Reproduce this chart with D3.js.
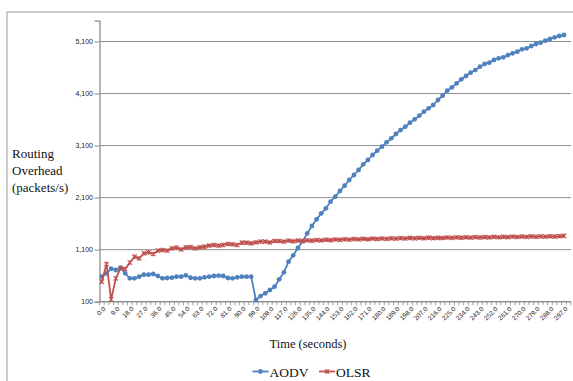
<!DOCTYPE html>
<html><head><meta charset="utf-8">
<script src="https://cdn.jsdelivr.net/npm/d3@7"></script>
<style>html,body{margin:0;padding:0;background:#fff;}svg{display:block;}</style>
</head><body>
<div id="chart"></div>
<script>
const categories = [0,3,6,9,12,15,18,21,24,27,30,33,36,39,42,45,48,51,54,57,60,63,66,69,72,75,78,81,84,87,90,93,96,99,102,105,108,111,114,117,120,123,126,129,132,135,138,141,144,147,150,153,156,159,162,165,168,171,174,177,180,183,186,189,192,195,198,201,204,207,210,213,216,219,222,225,228,231,234,237,240,243,246,249,252,255,258,261,264,267,270,273,276,279,282,285,288,291,294,297,300];
const aodv = [581,645,735,709,754,645,549,549,581,619,619,632,594,549,555,562,581,581,607,560,
  549,549,568,581,594,600,594,555,549,568,581,581,581,
  133,209,261,325,389,530,664,870,991,1132,1260,
  1414,1555,1683,1798,1894,2022,2118,2227,2330,2439,2535,2631,2740,2823,2919,3002,3079,3163,3239,3323,3399,3463,3540,3604,3675,3752,3816,3880,3976,4059,4155,4219,4296,4373,4437,4501,4552,4616,4668,4693,4745,4777,4796,4840,4873,4905,4950,4969,5014,5052,5078,5116,5148,5180,5206,5225];
const olsr = [485,824,145,549,741,728,850,965,933,1029,1049,1017,1081,1093,1081,1125,1138,1106,1145,1150,
  1125,1145,1157,1177,1190,1177,1190,1209,1202,1190,1234,1234,1222,1241,1254,1254,1241,1266,1266,1254,1273,
  1262,1275,1268,1280,1272,1284,1278,1290,1282,1295,1288,1300,1292,1305,1298,1308,1300,1312,1305,1315,1308,1318,1312,1322,1315,1325,1318,1326,1320,1330,1322,1328,1324,1334,1326,1336,1330,1338,1332,1340,1334,1342,1336,1345,1338,1347,1341,1350,1343,1352,1346,1354,1348,1356,1350,1358,1352,1360,1366];
const yTicks = [100,1100,2100,3100,4100,5100];
const seriesNames = ["AODV","OLSR"];
const yTitle = ["Routing","Overhead","(packets/s)"];
const xTitle = "Time (seconds)";

const W = 573, H = 381;
const svg = d3.select("#chart").append("svg").attr("width", W).attr("height", H);

// outer frame
svg.append("rect").attr("x", 7).attr("y", 12).attr("width", 600).attr("height", 420)
  .attr("fill", "#fff").attr("stroke", "#bcbcbc").attr("stroke-width", 1.5);

const x = d3.scaleBand().domain(categories).range([99.5, 571]).padding(0);
const y = d3.scaleLinear().domain([100, 5500]).range([301.7, 20.7]);
const cx = d => x(d) + x.bandwidth() / 2;

// gridlines
svg.append("g").selectAll("line").data(yTicks).join("line")
  .attr("x1", 99.5).attr("x2", 571).attr("y1", d => y(d)).attr("y2", d => y(d))
  .attr("stroke", "#8c8c8c").attr("stroke-width", 1);

// y axis
const yAxis = svg.append("g").attr("transform", "translate(99.5,0)")
  .call(d3.axisLeft(y).tickValues(yTicks).tickFormat(d3.format(",")).tickSize(5).tickPadding(1.5));
yAxis.select(".domain").attr("stroke", "#8c8c8c").attr("stroke-width", 1.3);
yAxis.selectAll(".tick line").attr("stroke", "#8c8c8c");
yAxis.selectAll("text").attr("font-family", "Liberation Sans, Arial, sans-serif").attr("font-size", 7).attr("fill", "#222");

// x axis line + boundary ticks
const xg = svg.append("g");
xg.append("line").attr("x1", 99.5).attr("x2", 571).attr("y1", y(100)).attr("y2", y(100))
  .attr("stroke", "#8c8c8c").attr("stroke-width", 1.3);
const bounds = categories.map(c => x(c)).concat([x.range()[1]]);
xg.selectAll("line.tk").data(bounds).join("line").attr("class", "tk")
  .attr("x1", d => d).attr("x2", d => d).attr("y1", y(100)).attr("y2", y(100) + 3.5)
  .attr("stroke", "#8c8c8c").attr("stroke-width", 0.8);
const labelCats = categories.filter((c, i) => i % 3 === 0 && i < 100);
xg.selectAll("text").data(labelCats).join("text")
  .attr("transform", d => `translate(${cx(d) + 2.5},${y(100) + 6}) rotate(-45)`)
  .attr("text-anchor", "end").attr("dy", "0.35em")
  .attr("font-family", "Liberation Sans, Arial, sans-serif").attr("font-size", 6.5).attr("fill", "#222")
  .text(d => d.toFixed(1));

// series
const data = [
  {name: seriesNames[0], values: aodv, color: "#4F81BD"},
  {name: seriesNames[1], values: olsr, color: "#C0504D"}
];
const line = d3.line().x((d, i) => cx(categories[i])).y(d => y(d));

function starMarker(g, px, py, color, s) {
  const p = `M${px - s},${py - s}L${px + s},${py + s}M${px - s},${py + s}L${px + s},${py - s}M${px},${py - s}L${px},${py + s}`;
  g.append("path").attr("d", p).attr("stroke", color).attr("stroke-width", 1.1).attr("fill", "none");
}

data.forEach((s, si) => {
  const g = svg.append("g");
  g.append("path").datum(s.values).attr("d", line).attr("fill", "none")
    .attr("stroke", s.color).attr("stroke-width", 1.8).attr("stroke-linejoin", "round");
  if (si === 0) {
    g.selectAll("circle").data(s.values).join("circle")
      .attr("cx", (d, i) => cx(categories[i])).attr("cy", d => y(d)).attr("r", 2.4)
      .attr("fill", s.color);
  } else {
    s.values.forEach((d, i) => starMarker(g, cx(categories[i]), y(d), s.color, 2.2));
  }
});

// axis titles
const serif = "Liberation Serif, Times New Roman, serif";
svg.append("text").attr("x", 308).attr("y", 348).attr("text-anchor", "middle")
  .attr("font-family", serif).attr("font-size", 12.5).attr("fill", "#111").text(xTitle);
svg.append("g").selectAll("text").data(yTitle).join("text")
  .attr("x", 12).attr("y", (d, i) => 158 + i * 17)
  .attr("font-family", serif).attr("font-size", 13).attr("fill", "#111").text(d => d);

// legend
const legend = svg.append("g");
const legendItems = [
  {name: seriesNames[0], color: "#4F81BD", x0: 252.5, tx: 269.5},
  {name: seriesNames[1], color: "#C0504D", x0: 319, tx: 336}
];
legendItems.forEach((it, i) => {
  legend.append("line").attr("x1", it.x0).attr("x2", it.x0 + 16).attr("y1", 371.5).attr("y2", 371.5)
    .attr("stroke", it.color).attr("stroke-width", 1.8);
  if (i === 0) legend.append("circle").attr("cx", it.x0 + 8).attr("cy", 371.5).attr("r", 2.4).attr("fill", it.color);
  else starMarker(legend, it.x0 + 8, 371.5, it.color, 2.2);
  legend.append("text").attr("x", it.tx).attr("y", 376.5)
    .attr("font-family", serif).attr("font-size", 13.5).attr("fill", "#111").text(it.name);
});
</script>
</body></html>
